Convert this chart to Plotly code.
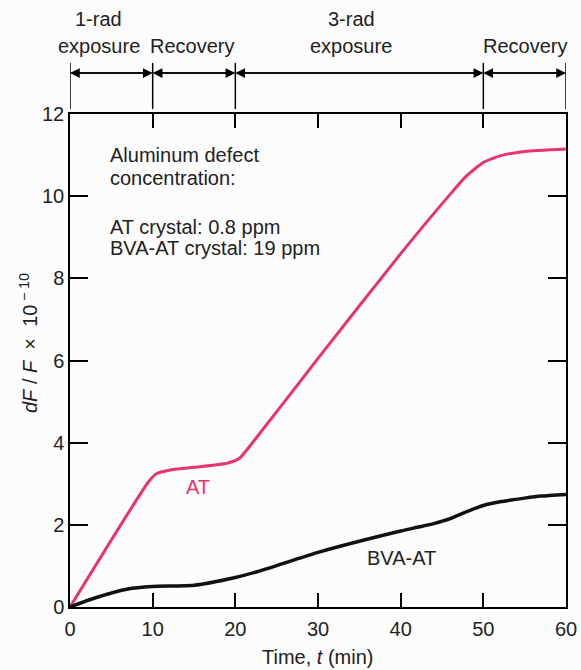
import plotly.graph_objects as go

# Data
t_at = [0, 9.5, 10.5, 12, 15, 19, 20.5, 22, 30, 40, 46, 48, 50, 52, 55, 60]
v_at = [0, 3.05, 3.25, 3.33, 3.4, 3.5, 3.62, 3.98, 6.05, 8.6, 10.05, 10.5, 10.82, 10.98, 11.09, 11.15]

t_bva = [0, 3, 7, 10, 15, 20, 23, 30, 40, 42, 44, 46, 48, 50, 52, 55, 57, 60]
v_bva = [0, 0.22, 0.44, 0.5, 0.53, 0.72, 0.88, 1.33, 1.85, 1.94, 2.03, 2.15, 2.32, 2.47, 2.56, 2.65, 2.7, 2.74]

phase_bounds = [0, 10, 20, 50, 60]
phase_label_line1 = ["1-rad", "", "3-rad", ""]
phase_label_line2 = ["exposure", "Recovery", "exposure", "Recovery"]
phase_label_x = [3.5, 14.8, 34.0, 55.0]

x_ticks = [0, 10, 20, 30, 40, 50, 60]
y_ticks = [0, 2, 4, 6, 8, 10, 12]

info_lines = ["Aluminum defect", "concentration:", "AT crystal: 0.8 ppm", "BVA-AT crystal: 19 ppm"]
info_y = [11.0, 10.44, 9.25, 8.73]

PINK = "#e8336e"
FONT = "Liberation Sans, Arial, Helvetica, sans-serif"
FS = 20

fig = go.Figure()
fig.add_trace(go.Scatter(x=t_at, y=v_at, mode="lines",
                         line=dict(color=PINK, width=3, shape="spline", smoothing=0.5),
                         showlegend=False, hoverinfo="skip"))
fig.add_trace(go.Scatter(x=t_bva, y=v_bva, mode="lines",
                         line=dict(color="#111111", width=3.5, shape="spline", smoothing=0.6),
                         showlegend=False, hoverinfo="skip"))

H = 493.0  # plot height in px
def py(pix):
    return (607 - pix) / H

shapes = []
for b in phase_bounds:
    shapes.append(dict(type="line", xref="x", yref="paper", x0=b, x1=b,
                       y0=py(109), y1=py(63), line=dict(color="black", width=1.5)))
fig.update_layout(shapes=shapes)

ann = []
for i in range(len(phase_bounds) - 1):
    a, b = phase_bounds[i], phase_bounds[i + 1]
    for tip, tail in ((a, b), (b, a)):
        ann.append(dict(x=tip, y=py(73), xref="x", yref="paper",
                        ax=tail, ay=0, axref="x", ayref="pixel",
                        showarrow=True, arrowhead=2, arrowsize=1.3, arrowwidth=1.5,
                        arrowcolor="black", standoff=0, startstandoff=0, text=" ",
                        font=dict(size=1)))
for i in range(4):
    if phase_label_line1[i]:
        ann.append(dict(x=phase_label_x[i], y=py(19), xref="x", yref="paper",
                        text=phase_label_line1[i], showarrow=False,
                        font=dict(size=FS, color="#222"), xanchor="center", yanchor="middle"))
    ann.append(dict(x=phase_label_x[i], y=py(46), xref="x", yref="paper",
                    text=phase_label_line2[i], showarrow=False,
                    font=dict(size=FS, color="#222"), xanchor="center", yanchor="middle"))

for txt, yy in zip(info_lines, info_y):
    ann.append(dict(x=4.6, y=yy, xref="x", yref="y", text=txt, showarrow=False,
                    xanchor="left", yanchor="middle", font=dict(size=FS, color="#222")))

ann.append(dict(x=15.5, y=2.92, xref="x", yref="y", text="AT", showarrow=False,
                font=dict(size=FS, color=PINK)))
ann.append(dict(x=40.1, y=1.19, xref="x", yref="y", text="BVA-AT", showarrow=False,
                font=dict(size=FS, color="#222")))

ann.append(dict(x=0.5, y=py(657), xref="paper", yref="paper",
                text="Time, <i>t</i> (min)", showarrow=False,
                font=dict(size=FS, color="#222"), yanchor="middle"))
ann.append(dict(x=(28 - 70) / 496.0, y=py(343), xref="paper", yref="paper",
                text="<i>dF</i> / <i>F</i>  ×  10<sup> − 10</sup>", showarrow=False, textangle=-90,
                font=dict(size=FS, color="#222"), xanchor="center", yanchor="middle"))

fig.update_layout(
    annotations=ann,
    width=581, height=670, autosize=False,
    margin=dict(l=70, r=15, t=114, b=63, autoexpand=False),
    paper_bgcolor="#fcfcfd", plot_bgcolor="#fcfcfd",
    font=dict(family=FONT, size=FS, color="#222"),
    xaxis=dict(range=[0, 60], tickvals=x_ticks, ticks="inside", ticklen=14, tickwidth=1.5,
               tickcolor="black", showline=True, linecolor="black", linewidth=1.5,
               mirror="ticks", showgrid=False, zeroline=False, ticklabelstandoff=3,
               automargin=False, tickfont=dict(size=FS, color="#222")),
    yaxis=dict(range=[0, 12], tickvals=y_ticks, ticks="inside", ticklen=18, tickwidth=1.5,
               tickcolor="black", showline=True, linecolor="black", linewidth=1.5,
               mirror="ticks", showgrid=False, zeroline=False, automargin=False,
               tickfont=dict(size=FS, color="#222")),
)

fig.write_html("out.html")
